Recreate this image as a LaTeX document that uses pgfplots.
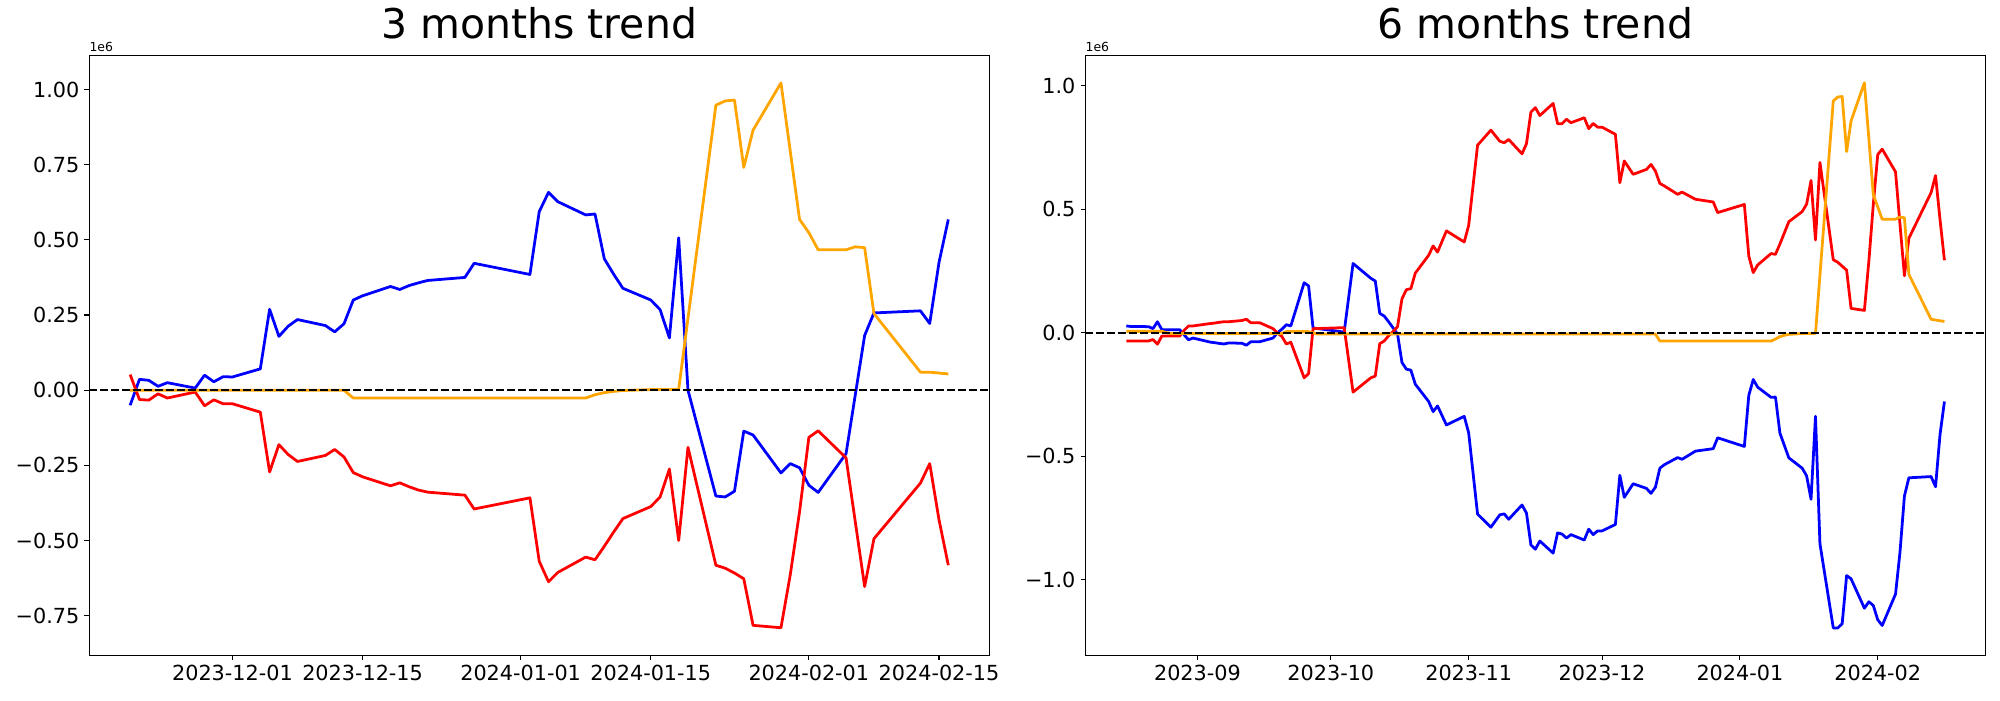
\documentclass[border=0pt]{standalone}
\usepackage{fontspec}
\setmainfont{DejaVu Sans}
\usepackage{pgfplots}
\usepackage{pgfplotstable}
\pgfplotsset{compat=1.18}
\definecolor{mplorange}{RGB}{255,165,0}

% ---- 3 months (x = days after 2023-12-01, y in units of 1e6) ----
\pgfplotstableread{
d v
-11 -0.050
-10 0.036
-9 0.033
-8 0.013
-7 0.025
-4 0.007
-3 0.050
-2 0.028
-1 0.045
0 0.044
3 0.071
4 0.269
5 0.179
6 0.213
7 0.235
10 0.215
11 0.194
12 0.221
13 0.300
14 0.314
17 0.345
18 0.335
19 0.348
20 0.357
21 0.365
25 0.375
26 0.422
32 0.385
33 0.594
34 0.658
35 0.627
38 0.583
39 0.586
40 0.437
41 0.386
42 0.339
45 0.300
46 0.268
47 0.174
48 0.507
49 0.000
52 -0.352
53 -0.355
54 -0.336
55 -0.136
56 -0.149
59 -0.275
60 -0.244
61 -0.258
62 -0.316
63 -0.340
66 -0.211
68 0.182
69 0.257
74 0.264
75 0.222
76 0.425
77 0.568
}\LB
\pgfplotstableread{
d v
-11 0.052
-10 -0.031
-9 -0.033
-8 -0.012
-7 -0.026
-4 -0.006
-3 -0.052
-2 -0.032
-1 -0.045
0 -0.045
3 -0.073
4 -0.272
5 -0.181
6 -0.214
7 -0.237
10 -0.217
11 -0.197
12 -0.222
13 -0.274
14 -0.288
17 -0.318
18 -0.308
19 -0.321
20 -0.332
21 -0.339
25 -0.349
26 -0.395
32 -0.358
33 -0.569
34 -0.637
35 -0.606
38 -0.555
39 -0.564
40 -0.519
41 -0.472
42 -0.427
45 -0.387
46 -0.355
47 -0.262
48 -0.500
49 -0.190
52 -0.582
53 -0.592
54 -0.608
55 -0.627
56 -0.782
59 -0.790
60 -0.614
61 -0.404
62 -0.157
63 -0.135
66 -0.225
68 -0.653
69 -0.494
74 -0.309
75 -0.244
76 -0.431
77 -0.582
}\LR
\pgfplotstableread{
d v
-11 0.000
12 0.000
13 -0.026
38 -0.026
39 -0.015
40 -0.008
41 -0.004
42 -0.001
45 0.002
48 0.003
52 0.948
53 0.962
54 0.965
55 0.741
56 0.865
59 1.022
61 0.568
62 0.524
63 0.467
66 0.467
67 0.477
68 0.474
69 0.255
74 0.060
75 0.060
77 0.054
}\LO

% ---- 6 months (x = days after 2023-09-01, y in units of 1e6) ----
\pgfplotstableread{
d v
-16 0.028
-15 0.026
-14 0.026
-11 0.025
-10 0.017
-9 0.045
-8 0.013
-7 0.013
-4 0.013
-3 -0.008
-2 -0.028
-1 -0.021
3 -0.038
4 -0.040
5 -0.043
6 -0.045
7 -0.041
10 -0.042
11 -0.050
12 -0.036
13 -0.036
14 -0.036
17 -0.021
18 0.000
19 0.015
20 0.033
21 0.028
24 0.203
25 0.190
26 0.020
33 0.003
35 0.281
39 0.221
40 0.210
41 0.079
42 0.068
43 0.045
44 0.020
45 -0.005
46 -0.120
47 -0.147
48 -0.151
49 -0.208
52 -0.278
53 -0.319
54 -0.296
56 -0.373
60 -0.338
61 -0.405
63 -0.734
66 -0.787
68 -0.737
69 -0.733
70 -0.755
73 -0.697
74 -0.730
75 -0.859
76 -0.876
77 -0.843
80 -0.892
81 -0.810
82 -0.815
83 -0.831
84 -0.817
87 -0.839
88 -0.795
89 -0.817
90 -0.802
91 -0.802
94 -0.776
95 -0.577
96 -0.666
98 -0.611
101 -0.630
102 -0.650
103 -0.625
104 -0.548
105 -0.534
108 -0.505
109 -0.512
112 -0.479
116 -0.469
117 -0.425
123 -0.460
124 -0.253
125 -0.189
126 -0.220
129 -0.261
130 -0.260
131 -0.406
133 -0.506
136 -0.548
137 -0.579
138 -0.674
139 -0.338
140 -0.854
143 -1.195
144 -1.195
145 -1.178
146 -0.983
147 -0.996
150 -1.115
151 -1.089
152 -1.104
153 -1.162
154 -1.185
157 -1.058
158 -0.889
159 -0.661
160 -0.587
165 -0.582
166 -0.623
167 -0.413
168 -0.278
}\RB
\pgfplotstableread{
d v
-16 -0.033
-15 -0.033
-14 -0.033
-11 -0.033
-10 -0.027
-9 -0.046
-8 -0.013
-7 -0.013
-4 -0.013
-3 0.010
-2 0.028
-1 0.028
3 0.038
4 0.040
5 0.043
6 0.045
7 0.045
10 0.050
11 0.055
12 0.041
13 0.041
14 0.041
17 0.017
18 0.000
19 -0.015
20 -0.045
21 -0.038
24 -0.182
25 -0.165
26 0.017
33 0.021
35 -0.240
39 -0.182
40 -0.175
41 -0.044
42 -0.033
43 -0.012
44 0.005
45 0.025
46 0.138
47 0.175
48 0.179
49 0.242
52 0.314
53 0.352
54 0.327
56 0.413
60 0.368
61 0.435
63 0.760
66 0.821
68 0.776
69 0.770
70 0.783
73 0.725
74 0.766
75 0.894
76 0.912
77 0.880
80 0.929
81 0.847
82 0.847
83 0.865
84 0.851
87 0.871
88 0.827
89 0.848
90 0.833
91 0.833
94 0.804
95 0.608
96 0.696
98 0.642
101 0.662
102 0.682
103 0.655
104 0.605
105 0.595
108 0.561
109 0.570
112 0.541
116 0.530
117 0.487
123 0.520
124 0.311
125 0.244
126 0.275
129 0.321
130 0.318
131 0.360
133 0.450
136 0.491
137 0.521
138 0.617
139 0.376
140 0.690
143 0.296
144 0.286
145 0.270
146 0.254
147 0.099
150 0.091
151 0.290
152 0.520
153 0.722
154 0.744
157 0.652
158 0.440
159 0.231
160 0.383
165 0.568
166 0.637
167 0.460
168 0.294
}\RR
\pgfplotstableread{
d v
-16 0.006
-8 0.006
-6 -0.003
19 -0.003
20 0.005
25 0.005
27 -0.005
103 -0.005
104 -0.033
129 -0.033
130 -0.025
131 -0.015
132 -0.010
133 -0.006
136 -0.003
139 -0.002
143 0.939
144 0.955
145 0.957
146 0.734
147 0.858
150 1.013
152 0.560
154 0.460
157 0.460
158 0.469
159 0.466
160 0.237
165 0.055
168 0.046
}\RO

\pgfplotsset{
  trend/.style={
    scale only axis, width=650.4pt, height=433.3pt, anchor=south west,
    axis line style={line width=0.8pt},
    tick align=outside, major tick length=3.5pt,
    every tick/.style={black, line width=0.8pt},
    xtick pos=bottom, ytick pos=left,
    tick label style={font=\fontsize{15}{18}\selectfont, inner sep=0pt},
    xticklabel shift=3.5pt, yticklabel shift=3.5pt,
    title style={font=\fontsize{29.6}{36}\selectfont, at={(0.5,1)}, anchor=base, yshift=6.4pt, inner sep=0pt},
    scaled ticks=false,
  },
  ser/.style={#1, line width=2pt, mark=none, line join=round},
  zeroline/.style={black, line width=1.5pt, dash pattern=on 5.55pt off 2.4pt},
}

\begin{document}
\begin{tikzpicture}
\useasboundingbox (0,0) rectangle (1445.4pt,505.9pt);
\begin{axis}[trend, name=L, at={(64.5pt,32.45pt)},
  xmin=-15.4, xmax=81.4, ymin=-0.881, ymax=1.113,
  xtick={0,14,31,45,62,76},
  xticklabels={2023-12-01,2023-12-15,2024-01-01,2024-01-15,2024-02-01,2024-02-15},
  ytick={-0.75,-0.5,-0.25,0,0.25,0.5,0.75,1},
  yticklabels={−0.75,−0.50,−0.25,0.00,0.25,0.50,0.75,1.00},
  title={3 months trend}]
\addplot[ser=blue] table {\LB};
\addplot[ser=red] table {\LR};
\addplot[ser=mplorange] table {\LO};
\addplot[zeroline] coordinates {(-15.4,0) (81.4,0)};
\end{axis}
\node[anchor=base west, inner sep=0pt, font=\fontsize{9}{10}\selectfont, yshift=3.2pt] at (L.north west) {1e6};

\begin{axis}[trend, name=R, at={(784.4pt,32.45pt)},
  xmin=-25.2, xmax=177.2, ymin=-1.305, ymax=1.123,
  xtick={0,30,61,91,122,153},
  xticklabels={2023-09,2023-10,2023-11,2023-12,2024-01,2024-02},
  ytick={-1,-0.5,0,0.5,1},
  yticklabels={−1.0,−0.5,0.0,0.5,1.0},
  title={6 months trend}]
\addplot[ser=blue] table {\RB};
\addplot[ser=red] table {\RR};
\addplot[ser=mplorange] table {\RO};
\addplot[zeroline] coordinates {(-25.2,0) (177.2,0)};
\end{axis}
\node[anchor=base west, inner sep=0pt, font=\fontsize{9}{10}\selectfont, yshift=3.2pt] at (R.north west) {1e6};
\end{tikzpicture}
\end{document}
